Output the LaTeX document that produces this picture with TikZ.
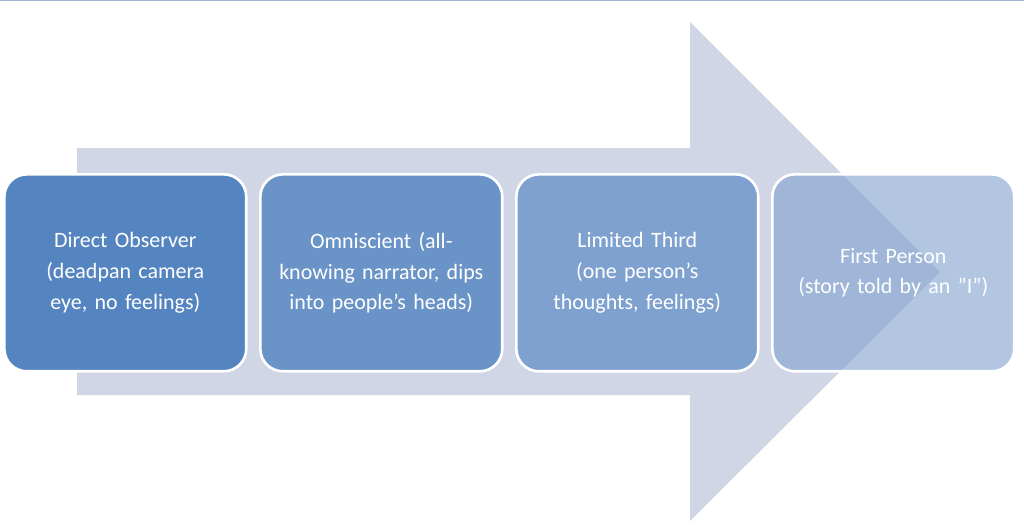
\documentclass[tikz,border=0pt]{standalone}
\usepackage{fontspec}
\setmainfont{Carlito}
\begin{document}
\begin{tikzpicture}[x=0.02cm,y=-0.02cm,
  box/.style={draw=white,line width=1.5pt,rounded corners=0.45cm,minimum width=4.84cm,minimum height=3.94cm,
    text width=4.4cm,align=center,text=white,font=\fontsize{12.5}{17.5}\selectfont,anchor=north west}]
\useasboundingbox (0,0) rectangle (1024,529);
\fill[white] (0,0) rectangle (1024,529);
\draw[color={rgb,255:red,160;green,180;blue,215},line width=1pt] (0,0.5) -- (1024,0.5);
\fill[color={rgb,255:red,208;green,214;blue,230}] (77,148) -- (690,148) -- (690,22) -- (940,272) -- (690,521) -- (690,395) -- (77,395) -- cycle;
\node[box,fill={rgb,255:red,85;green,133;blue,192}] (b1) at (3,173) {Direct Observer\\(deadpan camera eye, no feelings)};
\node[box,fill={rgb,255:red,106;green,147;blue,199}] (b2) at (259,173) {Omniscient (all-\\knowing narrator, dips into people's heads)};
\node[box,fill={rgb,255:red,127;green,161;blue,207}] (b3) at (515,173) {Limited Third\\(one person's thoughts, feelings)};
\node[box,fill={rgb,255:red,127;green,161;blue,207},fill opacity=0.6,text opacity=1] (b4) at (771,173) {First Person\\(story told by an "I")};
\end{tikzpicture}
\end{document}
